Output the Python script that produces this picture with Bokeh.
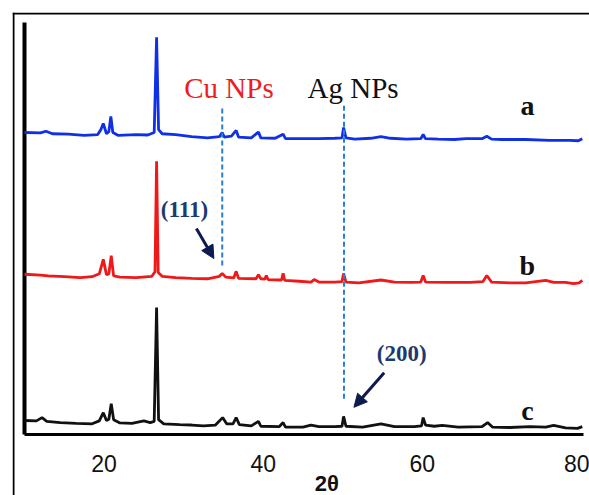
from bokeh.plotting import figure
from bokeh.models import Range1d, FixedTicker, Arrow, NormalHead, Span, Label
from bokeh.core.properties import value
from bokeh.embed import file_html
from bokeh.resources import INLINE

# ---- data (2-theta, intensity) ----
a_x = [10.0, 12.0, 12.7, 13.5, 15.5, 17.5, 19.2, 19.6, 19.9, 20.3, 20.6, 20.85, 21.1, 21.8, 24.0, 25.5,
       26.3, 26.6, 26.85, 27.3, 29.0, 31.0, 33.0, 34.5, 34.85, 35.1, 36.0, 36.6, 36.9, 38.5, 39.4, 39.7,
       41.5, 42.5, 42.8, 45.0, 47.0, 49.0, 49.9, 50.1, 50.4, 51.5, 53.5, 54.8, 56.0, 58.0, 59.8, 60.1,
       60.4, 62.0, 64.0, 65.5, 67.5, 68.1, 68.7, 70.0, 73.0, 76.0, 78.5, 79.6, 80.1]
a_y = [73.3, 73.2, 73.6, 73.0, 72.9, 72.6, 72.8, 74.0, 75.5, 73.0, 73.5, 77.2, 73.3, 72.6, 72.8, 72.7,
       73.3, 96.4, 74.0, 73.0, 72.8, 72.3, 72.0, 72.3, 73.3, 72.2, 72.4, 73.8, 72.2, 72.0, 73.4, 72.0,
       71.9, 72.9, 71.8, 71.8, 71.8, 71.9, 72.0, 74.5, 72.0, 71.7, 71.9, 72.3, 71.9, 71.7, 71.8, 72.8,
       71.8, 71.7, 71.6, 71.8, 71.8, 72.4, 71.7, 71.6, 71.6, 71.4, 71.4, 71.3, 71.8]

b_x = [10.0, 12.0, 13.0, 15.0, 17.0, 18.5, 19.4, 19.9, 20.3, 20.6, 20.9, 21.2, 22.0, 24.0, 26.0, 26.4,
       26.6, 26.8, 27.3, 29.0, 31.0, 33.0, 34.5, 34.85, 35.3, 36.3, 36.6, 36.9, 39.1, 39.4, 39.7, 40.2,
       40.4, 40.6, 42.3, 42.5, 42.7, 44.5, 46.0, 46.4, 47.0, 49.0, 49.9, 50.1, 50.4, 52.0, 54.8, 56.5,
       58.5, 59.8, 60.1, 60.4, 63.0, 66.0, 67.6, 68.1, 68.7, 71.0, 73.0, 75.5, 76.5, 78.0, 79.0, 79.7, 80.1]
b_y = [38.9, 38.7, 38.5, 38.3, 38.1, 38.3, 39.0, 42.5, 38.8, 39.0, 43.4, 38.5, 38.2, 38.1, 38.4, 39.5,
       66.3, 39.3, 38.4, 38.1, 37.9, 37.8, 38.4, 39.1, 38.2, 38.0, 39.6, 37.9, 37.8, 38.8, 37.8, 37.7,
       38.6, 37.6, 37.5, 39.1, 37.4, 37.2, 37.0, 37.6, 37.0, 37.0, 37.1, 39.1, 37.0, 36.8, 37.5, 37.0,
       36.9, 37.0, 38.6, 37.0, 36.9, 36.9, 37.1, 38.6, 37.0, 36.8, 36.8, 37.4, 36.9, 36.9, 36.6, 36.8, 37.4]

c_x = [10.0, 11.5, 12.2, 12.8, 14.5, 16.5, 18.5, 19.4, 19.9, 20.3, 20.6, 20.9, 21.2, 22.0, 23.5, 25.0,
       25.8, 26.3, 26.6, 26.85, 27.5, 29.5, 31.0, 32.5, 34.0, 34.9, 35.4, 36.2, 36.6, 37.0, 38.5, 39.4,
       39.7, 42.0, 42.5, 42.8, 45.0, 46.0, 47.0, 49.0, 49.9, 50.1, 50.4, 52.5, 54.8, 56.5, 59.0, 59.9,
       60.1, 60.4, 61.5, 62.5, 64.5, 67.5, 68.2, 68.8, 71.0, 73.5, 75.5, 76.5, 78.0, 79.5, 80.1]
c_y = [3.4, 3.3, 4.1, 3.2, 2.9, 2.7, 2.6, 3.3, 5.3, 3.4, 3.7, 7.5, 3.6, 2.8, 2.7, 3.3,
       2.9, 3.2, 30.8, 3.6, 2.6, 2.4, 2.3, 2.1, 2.3, 4.1, 2.6, 2.6, 4.1, 2.4, 2.1, 3.2,
       2.0, 1.9, 2.9, 1.8, 1.8, 2.3, 1.9, 1.9, 2.0, 4.4, 2.0, 1.8, 2.6, 1.9, 1.9, 2.1,
       4.1, 2.3, 2.0, 2.2, 1.8, 1.9, 2.9, 1.8, 1.7, 1.9, 1.8, 2.2, 1.6, 1.5, 1.9]

x_ticks = [20, 40, 60, 80]
x_label = "2θ"
x_min, x_max = 10, 80.3      # extent of the drawn x axis
y_min, y_max = 0, 100        # extent of the drawn y axis

# reference lines (Cu, Ag)
ref_x = [34.85, 50.15]
ref_y0 = [41.0, 8.7]
ref_y1 = [79.6, 79.9]

# text annotations
np_text = ["Cu NPs", "Ag NPs"]
np_x = [35.7, 51.3]
np_y = [84.0, 84.0]
np_colors = ["#ee1c1c", "#111111"]

series_text = ["a", "b", "c"]
series_tx = [73.2, 73.2, 73.2]
series_ty = [79.9, 41.0, 5.8]

hkl_text = ["(111)", "(200)"]
hkl_x = [30.1, 57.4]
hkl_y = [54.6, 19.7]

arrow_x0 = [31.6, 55.2]
arrow_y0 = [50.0, 15.0]
arrow_x1 = [33.8, 51.4]
arrow_y1 = [42.7, 6.6]

label_pos = (48.0, -11.9)

# ---- geometry (pixels) ----
W, H = 589, 495
BOX = 12                      # outer frame offset
AX_L, AX_R = 24, 581          # pixel of x=10 and x=80
AX_T, AX_B = 22, 434          # pixel of y=100 and y=0
sx = (AX_R - AX_L) / 70.0
sy = (AX_B - AX_T) / 100.0
xr = Range1d(10 - (AX_L - BOX) / sx, 80 + (W - AX_R) / sx)
yr = Range1d(0 - (H - AX_B) / sy, 100 + (AX_T - BOX) / sy)

p = figure(width=W, height=H, x_range=xr, y_range=yr,
           output_backend="svg", toolbar_location=None,
           min_border_left=BOX, min_border_right=0, min_border_top=BOX, min_border_bottom=0)
p.outline_line_color = None
p.grid.visible = False
p.yaxis.visible = False

ax = p.xaxis[0]
ax.fixed_location = 0
ax.bounds = (x_min, x_max)
ax.ticker = FixedTicker(ticks=x_ticks)
ax.major_tick_line_color = None
ax.minor_tick_line_color = None
ax.axis_line_width = 3
ax.axis_line_color = "black"
ax.major_label_text_font = "Liberation Sans"
ax.major_label_text_font_size = "23px"
ax.major_label_text_color = "#111111"
ax.major_label_standoff = 14

# outer frame (left and top edges; right/bottom run off the picture)
p.add_layout(Span(location=xr.start + 1.0 / sx, dimension="height", line_color="black", line_width=2))
p.add_layout(Span(location=yr.end - 1.0 / sy, dimension="width", line_color="black", line_width=2))

# left axis line
p.segment(x0=[x_min], y0=[y_min], x1=[x_min], y1=[y_max], line_color="black", line_width=4)

p.line(a_x, a_y, line_color="#1030e8", line_width=2.8)
p.line(b_x, b_y, line_color="#f01818", line_width=2.8)
p.line(c_x, c_y, line_color="#111111", line_width=2.8)

p.segment(x0=ref_x, y0=ref_y0, x1=ref_x, y1=ref_y1, line_color="#2a7fd4",
          line_width=2, line_dash="5 3")

p.text(x=np_x, y=np_y, text=np_text, text_color=np_colors,
       text_font=value("Liberation Serif"), text_font_size="29px",
       text_align="center", text_baseline="alphabetic")
p.text(x=series_tx, y=series_ty, text=series_text, text_color="#111111",
       text_font=value("Liberation Serif"), text_font_size="28px", text_font_style="bold",
       text_align="center", text_baseline="alphabetic")
p.text(x=hkl_x, y=hkl_y, text=hkl_text, text_color="#1c3a6e",
       text_font=value("Liberation Serif"), text_font_size="23px", text_font_style="bold",
       text_align="center", text_baseline="alphabetic")

for i in range(len(arrow_x0)):
    p.add_layout(Arrow(end=NormalHead(size=13, fill_color="#0d1a50", line_color="#0d1a50"),
                       x_start=arrow_x0[i], y_start=arrow_y0[i],
                       x_end=arrow_x1[i], y_end=arrow_y1[i],
                       line_color="#0d1a50", line_width=3))

p.add_layout(Label(x=label_pos[0], y=label_pos[1], text=x_label, text_font="Liberation Sans",
                   text_font_size="22px", text_font_style="bold", text_color="#111111",
                   text_align="center", text_baseline="middle"))

open("out.html", "w").write(file_html(p, INLINE))
